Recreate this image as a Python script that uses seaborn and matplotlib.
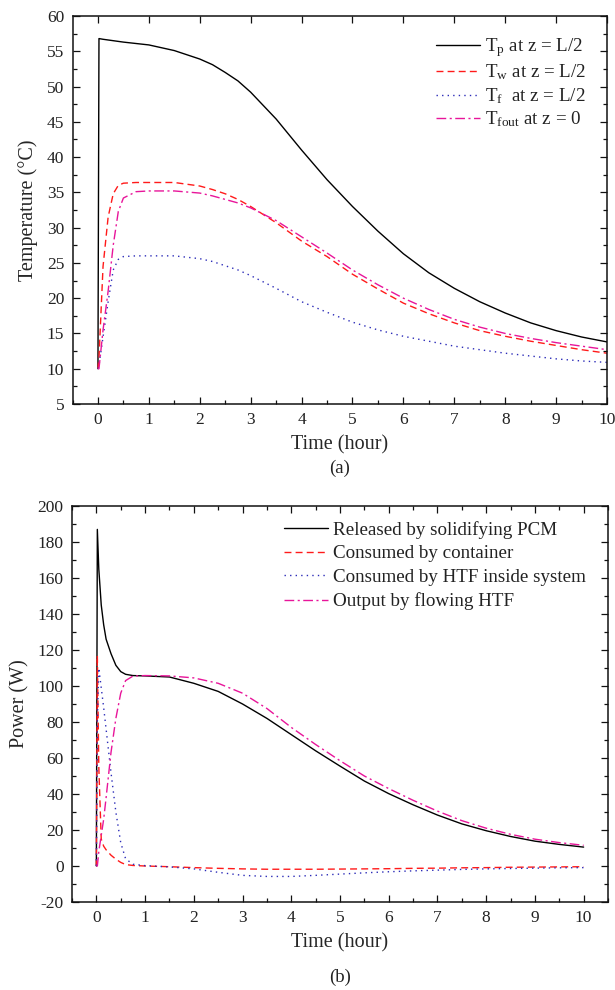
import numpy as np
import pandas as pd
import matplotlib
matplotlib.use("Agg")
import matplotlib.pyplot as plt
from matplotlib.ticker import MultipleLocator
import seaborn as sns

# ---- (a) temperatures ----
time_a = [0, 0.02, 0.1, 0.2, 0.3, 0.4, 0.5, 0.75, 1, 1.5, 2, 2.25, 2.5, 2.75,
          3, 3.5, 4, 4.5, 5, 5.5, 6, 6.5, 7, 7.5, 8, 8.5, 9, 9.5, 10]
t_pcm = [10, 56.8, 56.7, 56.6, 56.5, 56.4, 56.3, 56.1, 55.9, 55.1, 53.9, 53.1,
         52.0, 50.8, 49.2, 45.4, 41.0, 36.8, 33.0, 29.5, 26.3, 23.6, 21.4,
         19.5, 17.9, 16.5, 15.4, 14.5, 13.8]
t_wall = [10, 11.5, 24.5, 31.5, 34.8, 36.0, 36.3, 36.4, 36.4, 36.4, 35.9, 35.4,
          34.8, 34.0, 33.0, 30.7, 28.1, 25.9, 23.4, 21.3, 19.3, 17.8, 16.5,
          15.4, 14.6, 13.9, 13.3, 12.7, 12.2]
t_fluid = [10, 10.5, 14.5, 19.5, 24.0, 25.5, 25.9, 26.0, 26.0, 26.0, 25.6, 25.2,
           24.6, 24.0, 23.2, 21.4, 19.5, 18.0, 16.6, 15.5, 14.6, 13.9, 13.2,
           12.7, 12.2, 11.8, 11.4, 11.1, 10.9]
t_fout = [10, 10.0, 15.5, 21.0, 27.5, 32.3, 34.2, 35.1, 35.2, 35.2, 34.9, 34.5,
          34.0, 33.5, 32.8, 31.0, 28.7, 26.4, 24.0, 21.9, 20.0, 18.4, 17.0,
          15.9, 15.0, 14.3, 13.7, 13.2, 12.7]
labels_a = ["T$_{\\mathrm{p}}$ at z = L/2",
            "T$_{\\mathrm{w}}$ at z = L/2",
            "T$_{\\mathrm{f}}$  at z = L/2",
            "T$_{\\mathrm{fout}}$ at z = 0"]

# ---- (b) powers ----
time_b = [0, 0.02, 0.05, 0.1, 0.15, 0.2, 0.3, 0.4, 0.5, 0.6, 0.75, 1, 1.5, 2,
          2.5, 3, 3.5, 4, 4.5, 5, 5.5, 6, 6.5, 7, 7.5, 8, 8.5, 9, 9.5, 10]
p_released = [0, 187, 165, 145, 134, 126, 118, 111.5, 108, 106.5, 105.8, 105.6,
              105.0, 101.5, 97.0, 90.0, 82.0, 73.0, 64.0, 55.5, 47.2, 40.2,
              34.0, 28.3, 23.4, 19.6, 16.4, 13.8, 12.0, 10.5]
p_container = [0, 117, 55, 15, 11, 9, 6, 3.8, 2.0, 0.8, 0.3, 0.0, -0.4, -0.9,
               -1.3, -1.6, -1.8, -1.8, -1.8, -1.7, -1.6, -1.5, -1.3, -1.2,
               -1.0, -0.9, -0.7, -0.6, -0.5, -0.4]
p_htf_inside = [0, 80, 110, 99, 88, 76, 52, 30, 13, 4, 1.0, 0.2, -0.5, -1.6,
                -3.5, -5.2, -5.8, -5.8, -5.2, -4.5, -3.8, -3.2, -2.7, -2.3,
                -1.9, -1.6, -1.4, -1.2, -1.0, -0.9]
p_output = [0, 0, 8, 17, 26, 38, 63, 82, 96, 103, 105.5, 105.8, 105.6, 104.5,
            101.5, 96.0, 87.5, 77.0, 67.5, 58.5, 50.0, 43.0, 36.5, 30.5, 25.2,
            21.0, 17.6, 14.9, 13.0, 11.5]
labels_b = ["Released by solidifying PCM",
            "Consumed by container",
            "Consumed by HTF inside system",
            "Output by flowing HTF"]

colors = ["#000000", "#FF1A1A", "#2B2BB8", "#E8159A"]
styles = ["-", (0, (5, 3)), (0, (1, 3)), (0, (7, 2.5, 1.5, 2.5))]

sns.set_style("ticks")
plt.rcParams["font.family"] = ["Liberation Serif", "DejaVu Serif"]
plt.rcParams["mathtext.fontset"] = "custom"
plt.rcParams["mathtext.rm"] = "Liberation Serif"
plt.rcParams["mathtext.it"] = "Liberation Serif:italic"
plt.rcParams["text.color"] = "#222222"
plt.rcParams["axes.unicode_minus"] = False

W, H = 615, 990
fig = plt.figure(figsize=(W / 100, H / 100), dpi=100)


def px_axes(left, top, right, bottom):
    return fig.add_axes([left / W, 1 - bottom / H, (right - left) / W,
                         (bottom - top) / H])


def style_axes(ax, top_minor=True):
    for s in ax.spines.values():
        s.set_linewidth(1.1)
        s.set_color("#111111")
    ax.tick_params(which="both", direction="in", top=True, right=True,
                   labelsize=12.5, colors="#111111", labelcolor="#222222",
                   width=0.9)
    ax.tick_params(which="major", length=5, pad=6)
    ax.tick_params(which="minor", length=2.8)
    if not top_minor:
        ax.tick_params(which="minor", top=False)


def draw(ax, t, series, labels):
    df = pd.DataFrame({"t": t})
    for i, (vals, lab) in enumerate(zip(series, labels)):
        df["v"] = vals
        sns.lineplot(data=df, x="t", y="v", ax=ax, color=colors[i],
                     linestyle=styles[i], linewidth=1.0, label=lab,
                     sort=False, estimator=None)


# (a)
ax1 = px_axes(72.5, 16, 607, 404)
draw(ax1, time_a, [t_pcm, t_wall, t_fluid, t_fout], labels_a)
ax1.set_xlim(-0.5, 10)
ax1.set_ylim(5, 60)
ax1.xaxis.set_major_locator(MultipleLocator(1))
ax1.xaxis.set_minor_locator(MultipleLocator(0.5))
ax1.yaxis.set_major_locator(MultipleLocator(5))
ax1.yaxis.set_minor_locator(MultipleLocator(2.5))
style_axes(ax1, top_minor=False)
ax1.set_xlabel("Time (hour)", fontsize=14.5, labelpad=5)
ax1.set_ylabel("Temperature (\u00b0C)", fontsize=14.5, labelpad=6)
ax1.legend(loc="upper left", bbox_to_anchor=(436 / W, 1 - 36 / H),
           bbox_transform=fig.transFigure, frameon=False, fontsize=13.7,
           handlelength=2.3, handletextpad=0.3, labelspacing=0.2,
           borderpad=0, borderaxespad=0)
fig.text(340 / W, 1 - 468 / H, "(a)", ha="center", va="center",
         fontsize=13.5)

# (b)
ax2 = px_axes(72, 506, 608, 902)
draw(ax2, time_b, [p_released, p_container, p_htf_inside, p_output], labels_b)
ax2.set_xlim(-0.5, 10.5)
ax2.set_ylim(-20, 200)
ax2.xaxis.set_major_locator(MultipleLocator(1))
ax2.xaxis.set_minor_locator(MultipleLocator(0.5))
ax2.yaxis.set_major_locator(MultipleLocator(20))
ax2.yaxis.set_minor_locator(MultipleLocator(10))
style_axes(ax2)
ax2.set_xlabel("Time (hour)", fontsize=14.5, labelpad=5)
ax2.set_ylabel("Power (W)", fontsize=14.5, labelpad=6)
ax2.legend(loc="upper left", bbox_to_anchor=(284 / W, 1 - 521 / H),
           bbox_transform=fig.transFigure, frameon=False, fontsize=13.7,
           handlelength=2.3, handletextpad=0.3, labelspacing=0.33,
           borderpad=0, borderaxespad=0)
fig.text(340 / W, 1 - 977 / H, "(b)", ha="center", va="center",
         fontsize=13.5)

fig.savefig("out.png", dpi=100)
